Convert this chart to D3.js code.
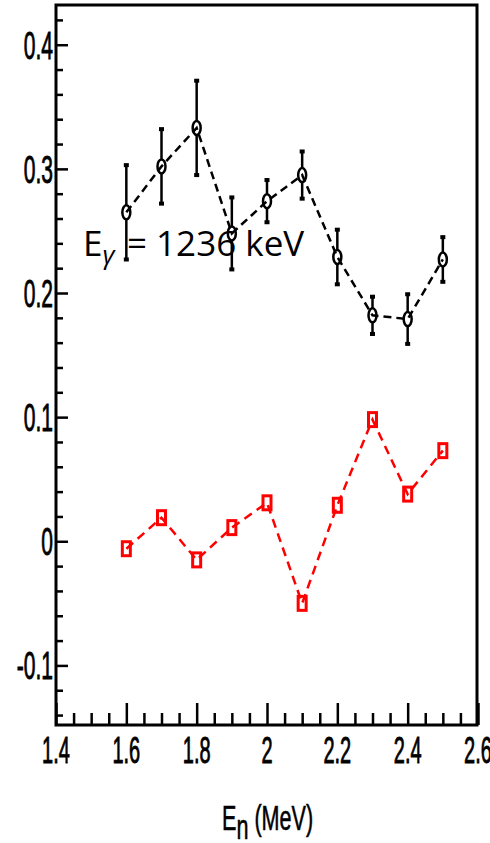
<!DOCTYPE html>
<html>
<head>
<meta charset="utf-8">
<script src="https://cdn.jsdelivr.net/npm/d3@7"></script>
<style>
  html, body { margin: 0; padding: 0; background: #fff; }
  svg { display: block; }
</style>
</head>
<body>
<svg class="chart" width="490" height="843"></svg>
<script>
// energies (MeV)
var energies = [1.6, 1.7, 1.8, 1.9, 2.0, 2.1, 2.2, 2.3, 2.4, 2.5];
// black series (circles) + errors
var blackVals = [0.265, 0.302, 0.333, 0.248, 0.274, 0.295, 0.229, 0.182, 0.179, 0.227];
var blackErrs = [0.038, 0.030, 0.038, 0.029, 0.017, 0.019, 0.022, 0.015, 0.020, 0.018];
// red series (squares)
var redVals = [-0.006, 0.019, -0.015, 0.011, 0.031, -0.050, 0.029, 0.098, 0.038, 0.073];

var xTicks = [1.4, 1.6, 1.8, 2.0, 2.2, 2.4, 2.6];
var xTickLabels = ["1.4", "1.6", "1.8", "2", "2.2", "2.4", "2.6"];
var yTicks = [-0.1, 0, 0.1, 0.2, 0.3, 0.4];
var yTickLabels = ["-0.1", "0", "0.1", "0.2", "0.3", "0.4"];

function drawChart(){
  var svg = d3.select("svg.chart");
  var left = 56, right = 478, top = 5, bottom = 725;

  var x = d3.scaleLinear().domain([1.4, 2.6]).range([left, right]);
  var y = d3.scaleLinear().domain([-0.148, 0.432]).range([bottom, top]);

  var tickFont = "'Liberation Sans', Arial, sans-serif";
  var squeeze = 0.54;

  // minor ticks
  var yMinor = d3.range(-0.14, 0.4301, 0.02).filter(function(v){
    return Math.abs(Math.round(v*10) - v*10) > 0.01;
  });
  var xMinor = d3.range(1.45, 2.6, 0.05).filter(function(v){
    return Math.abs(Math.round(v*5) - v*5) > 0.01;
  });

  function styleTicks(g){
    g.select(".domain").remove();
    g.selectAll("line").attr("stroke", "#000").attr("stroke-width", 2.5);
    g.selectAll("text").remove();
  }

  svg.append("g").attr("transform", "translate(" + left + ",0)")
    .call(d3.axisRight(y).tickValues(yTicks).tickSize(12)).call(styleTicks);
  svg.append("g").attr("transform", "translate(" + left + ",0)")
    .call(d3.axisRight(y).tickValues(yMinor).tickSize(7)).call(styleTicks);
  svg.append("g").attr("transform", "translate(0," + bottom + ")")
    .call(d3.axisTop(x).tickValues(xTicks).tickSize(22)).call(styleTicks);
  svg.append("g").attr("transform", "translate(0," + bottom + ")")
    .call(d3.axisTop(x).tickValues(xMinor).tickSize(12)).call(styleTicks);

  // frame
  svg.append("rect")
    .attr("x", left).attr("y", top)
    .attr("width", x(2.6) - left - 1).attr("height", bottom - top)
    .attr("fill", "none").attr("stroke", "#000").attr("stroke-width", 3);

  // tick labels (narrow font look)
  yTicks.forEach(function(v, i){
    svg.append("g")
      .attr("transform", "translate(53," + (y(v) + 14) + ") scale(" + squeeze + ",1)")
      .append("text")
      .attr("text-anchor", "end")
      .attr("font-family", tickFont)
      .attr("font-size", 39)
      .attr("stroke", "#000").attr("stroke-width", 0.9)
      .text(yTickLabels[i]);
  });
  xTicks.forEach(function(v, i){
    svg.append("g")
      .attr("transform", "translate(" + x(v) + ",763) scale(" + squeeze + ",1)")
      .append("text")
      .attr("text-anchor", "middle")
      .attr("font-family", tickFont)
      .attr("font-size", 37)
      .attr("stroke", "#000").attr("stroke-width", 0.9)
      .text(xTickLabels[i]);
  });

  // x axis title
  var title = svg.append("g")
    .attr("transform", "translate(222,830) scale(0.6,1)")
    .append("text")
    .attr("font-family", tickFont)
    .attr("font-size", 36)
    .attr("stroke", "#000").attr("stroke-width", 0.6);
  title.append("tspan").text("E");
  title.append("tspan").attr("dy", 9).text("n");
  title.append("tspan").attr("dy", -9).text(" (MeV)");

  var line = d3.line()
    .x(function(d){ return x(d[0]); })
    .y(function(d){ return y(d[1]); });

  // red series
  var redData = energies.map(function(e, i){ return [e, redVals[i]]; });
  svg.append("path")
    .datum(redData)
    .attr("d", line)
    .attr("fill", "none")
    .attr("stroke", "#f00")
    .attr("stroke-width", 2.5)
    .attr("stroke-dasharray", "9,6");
  svg.selectAll(".sq")
    .data(redData)
    .enter().append("rect")
    .attr("class", "sq")
    .attr("x", function(d){ return x(d[0]) - 4; })
    .attr("y", function(d){ return y(d[1]) - 7; })
    .attr("width", 8).attr("height", 14)
    .attr("fill", "none")
    .attr("stroke", "#f00")
    .attr("stroke-width", 3);

  // black series
  var blackData = energies.map(function(e, i){ return [e, blackVals[i], blackErrs[i]]; });
  svg.append("path")
    .datum(blackData)
    .attr("d", line)
    .attr("fill", "none")
    .attr("stroke", "#000")
    .attr("stroke-width", 2.5)
    .attr("stroke-dasharray", "8,5");

  var ry = 7, rx = 4;
  var pts = svg.selectAll(".pt")
    .data(blackData)
    .enter().append("g")
    .attr("class", "pt");
  pts.append("line")
    .attr("x1", function(d){ return x(d[0]); })
    .attr("x2", function(d){ return x(d[0]); })
    .attr("y1", function(d){ return y(d[1] + d[2]); })
    .attr("y2", function(d){ return y(d[1]) - ry; })
    .attr("stroke", "#000").attr("stroke-width", 2.5);
  pts.append("line")
    .attr("x1", function(d){ return x(d[0]); })
    .attr("x2", function(d){ return x(d[0]); })
    .attr("y1", function(d){ return y(d[1]) + ry; })
    .attr("y2", function(d){ return y(d[1] - d[2]); })
    .attr("stroke", "#000").attr("stroke-width", 2.5);
  pts.append("rect")
    .attr("x", function(d){ return x(d[0]) - 2.5; })
    .attr("y", function(d){ return y(d[1] + d[2]) - 2; })
    .attr("width", 5).attr("height", 4).attr("fill", "#000");
  pts.append("rect")
    .attr("x", function(d){ return x(d[0]) - 2.5; })
    .attr("y", function(d){ return y(d[1] - d[2]) - 2; })
    .attr("width", 5).attr("height", 4).attr("fill", "#000");
  pts.append("ellipse")
    .attr("cx", function(d){ return x(d[0]); })
    .attr("cy", function(d){ return y(d[1]); })
    .attr("rx", rx).attr("ry", ry)
    .attr("fill", "none")
    .attr("stroke", "#000")
    .attr("stroke-width", 2.5);

  // annotation
  var ann = svg.append("text")
    .attr("x", 83).attr("y", 256)
    .attr("font-family", "'Open Sans', Lato, sans-serif")
    .attr("font-size", 35)
    .attr("fill", "#000");
  ann.append("tspan").text("E");
  ann.append("tspan").attr("dy", 8).attr("font-size", 26).attr("font-style", "italic").text("\u03b3");
  ann.append("tspan").attr("x", 127).attr("dy", -8).text("= 1236 keV");
}

drawChart();
</script>
</body>
</html>
